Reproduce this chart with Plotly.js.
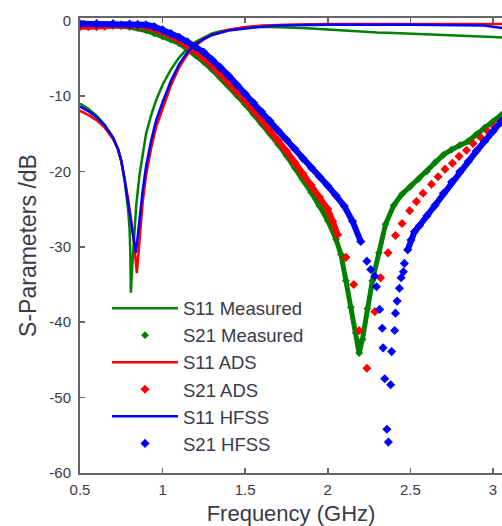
<!DOCTYPE html>
<html><head><meta charset="utf-8">
<script src="https://cdn.plot.ly/plotly-3.0.1.min.js"></script>
<style>html,body{margin:0;padding:0;background:#fff}#chart{width:502px;height:526px}</style>
</head><body><div id="chart"></div>
<script>
// ---- data ----
const seriesNames = ["S11 Measured","S21 Measured","S11 ADS","S21 ADS","S11 HFSS","S21 HFSS"];
const xTickVals = [0.5,1,1.5,2,2.5,3];
const xTickText = ["0.5","1","1.5","2","2.5","3"];
const yTickVals = [0,-10,-20,-30,-40,-50,-60];
const yTickText = ["0","-10","-20","-30","-40","-50","-60"];

const s11MeasF  = [0.50,0.55,0.60,0.65,0.70,0.73,0.75,0.77,0.79,0.80,0.805,0.808,0.814,0.822,0.83,0.84,0.86,0.88,0.90,0.93,0.96,1.00,1.05,1.10,1.15,1.20,1.25,1.30,1.35,1.40,1.50,1.60,1.70,1.80,1.90,2.00,2.10,2.20,2.30,2.40,2.50,2.60,2.70,2.80,2.90,3.00,3.06];
const s11MeasDb = [-11.0,-11.7,-12.6,-13.8,-15.5,-17.0,-18.7,-21.2,-24.8,-27.5,-31.0,-36.1,-33.5,-30.5,-27.8,-24.6,-20.5,-17.4,-15.0,-12.6,-10.6,-8.5,-6.5,-4.9,-3.7,-2.8,-2.2,-1.7,-1.4,-1.2,-0.9,-0.82,-0.85,-0.95,-1.05,-1.2,-1.3,-1.45,-1.57,-1.65,-1.72,-1.8,-1.9,-2.0,-2.1,-2.17,-2.25];

const s21MeasF  = [0.50,0.60,0.70,0.75,0.80,0.85,0.90,0.95,1.00,1.05,1.10,1.15,1.20,1.25,1.30,1.35,1.40,1.45,1.50,1.55,1.60,1.65,1.70,1.75,1.80,1.85,1.90,1.95,2.00,2.05,2.08,2.11,2.14,2.17,2.19,2.21,2.24,2.27,2.31,2.35,2.40,2.45,2.50,2.55,2.60,2.65,2.70,2.75,2.80,2.85,2.90,2.95,3.00,3.05];
const s21MeasDb = [-0.65,-0.65,-0.7,-0.75,-0.85,-1.0,-1.3,-1.7,-2.1,-2.5,-3.0,-3.8,-4.6,-5.5,-6.5,-7.6,-8.7,-9.9,-11.1,-12.4,-13.7,-15.0,-16.4,-17.9,-19.5,-21.1,-22.8,-24.6,-26.5,-29.0,-31.0,-34.5,-38.0,-41.4,-44.1,-42.3,-38.2,-34.5,-30.8,-27.0,-24.5,-23.0,-22.0,-21.0,-20.0,-18.8,-17.8,-17.1,-16.5,-16.0,-15.1,-14.2,-13.4,-12.5];

const s11AdsF  = [0.50,0.55,0.60,0.65,0.70,0.73,0.75,0.77,0.79,0.81,0.83,0.844,0.855,0.865,0.88,0.90,0.93,0.96,1.00,1.05,1.10,1.15,1.20,1.25,1.30,1.40,1.50,1.60,1.80,2.00,2.50,3.06];
const s11AdsDb = [-11.95,-12.5,-13.2,-14.2,-15.7,-17.1,-18.6,-20.8,-23.5,-26.5,-30.0,-33.5,-30.5,-27.5,-24.0,-20.5,-17.0,-14.2,-11.6,-8.6,-6.2,-4.5,-3.3,-2.5,-1.9,-1.2,-0.85,-0.65,-0.5,-0.45,-0.45,-0.45];

const s21AdsF  = [0.50,0.55,0.60,0.65,0.70,0.75,0.80,0.85,0.90,0.95,1.00,1.05,1.10,1.15,1.20,1.25,1.30,1.35,1.40,1.45,1.50,1.55,1.60,1.65,1.70,1.75,1.80,1.85,1.90,1.95,2.00,2.03,2.06,2.11,2.157,2.19,2.237,2.285,2.32,2.365,2.41,2.45,2.496,2.537,2.577,2.628,2.668,2.71,2.755,2.795,2.84,2.88,2.927,2.97,3.01,3.047];
const s21AdsDb = [-0.8,-0.8,-0.8,-0.75,-0.6,-0.55,-0.55,-0.65,-0.8,-1.1,-1.5,-2.0,-2.6,-3.3,-4.1,-5.0,-6.0,-7.1,-8.2,-9.4,-10.6,-11.9,-13.2,-14.5,-15.9,-17.3,-18.8,-20.3,-21.8,-23.4,-25.0,-26.6,-28.4,-31.4,-35.0,-41.1,-46.1,-38.6,-34.1,-30.8,-28.5,-26.9,-25.2,-24.0,-22.9,-21.7,-20.7,-19.7,-18.9,-18.0,-17.2,-16.3,-15.5,-14.7,-14.1,-13.4];

const s11HfssF  = [0.50,0.55,0.60,0.65,0.70,0.73,0.75,0.77,0.79,0.81,0.825,0.838,0.85,0.86,0.88,0.90,0.93,0.96,1.00,1.05,1.10,1.15,1.20,1.25,1.30,1.40,1.50,1.60,1.70,1.80,2.00,2.50,2.80,2.95,3.00,3.06];
const s11HfssDb = [-11.4,-12.0,-12.8,-13.9,-15.5,-17.0,-18.6,-21.0,-24.0,-27.0,-29.3,-30.8,-28.5,-26.2,-22.5,-19.3,-16.0,-13.3,-10.8,-8.0,-5.8,-4.2,-3.1,-2.4,-1.9,-1.3,-1.0,-0.8,-0.65,-0.6,-0.55,-0.55,-0.6,-0.65,-0.8,-1.0];

const s21HfssF  = [0.50,0.60,0.70,0.80,0.85,0.90,0.95,1.00,1.05,1.10,1.15,1.20,1.25,1.30,1.35,1.40,1.45,1.50,1.55,1.60,1.65,1.70,1.75,1.80,1.85,1.90,1.95,2.00,2.05,2.10,2.15,2.20,2.237,2.26,2.285,2.295,2.314,2.33,2.335,2.345,2.358,2.367,2.381,2.387,2.405,2.41,2.42,2.434,2.444,2.458,2.464,2.484,2.504,2.525,2.555,2.60,2.65,2.70,2.75,2.80,2.85,2.90,2.95,3.00,3.05];
const s21HfssDb = [-0.4,-0.4,-0.4,-0.45,-0.5,-0.55,-0.8,-1.2,-1.7,-2.2,-2.8,-3.5,-4.2,-5.2,-6.2,-7.3,-8.5,-9.7,-10.9,-12.1,-13.3,-14.6,-15.8,-17.0,-18.3,-19.5,-20.7,-21.9,-23.2,-24.6,-26.6,-29.3,-31.9,-33.0,-33.9,-35.3,-38.3,-40.8,-43.4,-47.5,-54.2,-55.9,-48.3,-43.9,-41.1,-38.8,-37.2,-35.5,-34.1,-33.3,-32.2,-30.4,-29.1,-28.0,-27.2,-25.9,-24.5,-22.9,-21.4,-20.0,-18.7,-17.3,-16.0,-14.7,-13.4];

// ---- styles ----
const GREEN = "rgb(0,128,0)", RED = "rgb(255,0,0)", BLUE = "rgb(0,0,255)";
const FONT = "Liberation Sans, Arial, sans-serif";
const TXT = "#3a3a48";

// dense (continuous-looking) part of a marker series
function band(f, db, fmax, ymin) {
  const x = [], y = [];
  for (let i = 0; i < f.length; i++) {
    x.push(f[i]);
    y.push(f[i] <= fmax && db[i] >= ymin ? db[i] : null);
  }
  return {x, y};
}

function lineTrace(name, f, db, color, grp) {
  return {x: f, y: db, name, type: "scatter", mode: "lines", legendgroup: grp,
          line: {color, width: 2.5}};
}
function bandTrace(f, db, color, fmax, ymin, w) {
  const b = band(f, db, fmax, ymin);
  return {x: b.x, y: b.y, type: "scatter", mode: "lines", showlegend: false,
          connectgaps: false, hoverinfo: "skip", line: {color, width: w}};
}
function markTrace(name, f, db, color, size, grp) {
  return {x: f, y: db, name, type: "scatter", mode: "markers", legendgroup: grp,
          marker: {symbol: "diamond", color, size, line: {width: 0}}};
}

const data = [
  lineTrace(seriesNames[0], s11MeasF, s11MeasDb, GREEN, "g1"),
  bandTrace(s21MeasF, s21MeasDb, GREEN, 10, -100, 5),
  markTrace(seriesNames[1], s21MeasF, s21MeasDb, GREEN, 6, "g2"),
  lineTrace(seriesNames[2], s11AdsF, s11AdsDb, RED, "g3"),
  bandTrace(s21AdsF, s21AdsDb, RED, 2.07, -100, 6),
  markTrace(seriesNames[3], s21AdsF, s21AdsDb, RED, 7, "g4"),
  lineTrace(seriesNames[4], s11HfssF, s11HfssDb, BLUE, "g5"),
  bandTrace(s21HfssF, s21HfssDb, BLUE, 10, -31.5, 6),
  markTrace(seriesNames[5], s21HfssF, s21HfssDb, BLUE, 7, "g6")
];

const axisCommon = {
  showline: true, linecolor: "#666", linewidth: 2,
  ticks: "inside", ticklen: 5, tickwidth: 1.5, tickcolor: "#666",
  showgrid: false, zeroline: false,
  tickfont: {family: FONT, size: 15, color: TXT}
};

const layout = {
  width: 502, height: 526,
  margin: {l: 80, r: 0, t: 18, b: 53},
  paper_bgcolor: "#fff", plot_bgcolor: "#fff",
  showlegend: true,
  legend: {x: 0.064, y: 0.403, xanchor: "left", yanchor: "top",
           bgcolor: "rgba(0,0,0,0)", borderwidth: 0, traceorder: "grouped",
           tracegroupgap: 0, itemwidth: 66,
           font: {family: FONT, size: 18.5, color: TXT}},
  xaxis: Object.assign({}, axisCommon, {
    range: [0.5, 3.055], tickvals: xTickVals, ticktext: xTickText, mirror: "ticks",
    ticklabelstandoff: 2,
    title: {text: "Frequency (GHz)", standoff: 14, font: {family: FONT, size: 22, color: TXT}}
  }),
  yaxis: Object.assign({}, axisCommon, {
    range: [-60, 0.35], tickvals: yTickVals, ticktext: yTickText, mirror: false,
    ticklabelstandoff: 4,
    title: {text: "S-Parameters /dB", standoff: 6, font: {family: FONT, size: 23, color: TXT}}
  })
};

Plotly.newPlot("chart", data, layout, {displayModeBar: false, staticPlot: true});
</script>
</body></html>
